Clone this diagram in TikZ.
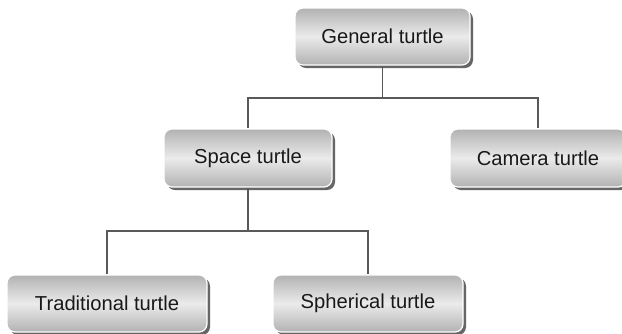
\documentclass[tikz,border=0pt]{standalone}
\usepackage{fontspec}
\setmainfont{Liberation Sans}
\usetikzlibrary{shadows}
\begin{document}
\begin{tikzpicture}[x=1pt,y=-1pt,
  turtlebox/.style={rectangle, rounded corners=8pt, minimum height=57pt,
    draw=white, line width=1.2pt,
    top color=black!30, bottom color=black!30, middle color=black!8,
    general shadow={fill=black!60, shadow xshift=3pt, shadow yshift=-3pt},
    text=black!90, font=\fontsize{20.2}{24}\selectfont, inner sep=0pt},
  link/.style={draw=black!65, line width=1.5pt}]
\useasboundingbox (0,0) rectangle (622,333);
\fill[white] (0,0) rectangle (622,333);

% tree nodes
\node[turtlebox, minimum width=175pt] (gen) at (382.5,36.5) {General turtle};
\node[turtlebox, minimum width=168pt, minimum height=58pt] (space) at (248,158) {Space turtle};
\node[turtlebox, minimum width=176pt, minimum height=58pt] (cam) at (538,158) {Camera turtle};
\node[turtlebox, minimum width=200pt] (trad) at (107,303.5) {Traditional turtle};
\node[turtlebox, minimum width=190pt] (sph) at (368,303.5) {Spherical turtle};

% elbow connectors via junction points
\coordinate (j1) at (gen.south |- 0,98);
\coordinate (j2) at (space.south |- 0,231);
\draw[link] (gen.south) -- (j1);
\draw[link] (j1) -| (space.north);
\draw[link] (j1) -| (cam.north);
\draw[link] (space.south) -- (j2);
\draw[link] (j2) -| (trad.north);
\draw[link] (j2) -| (sph.north);
\end{tikzpicture}
\end{document}
